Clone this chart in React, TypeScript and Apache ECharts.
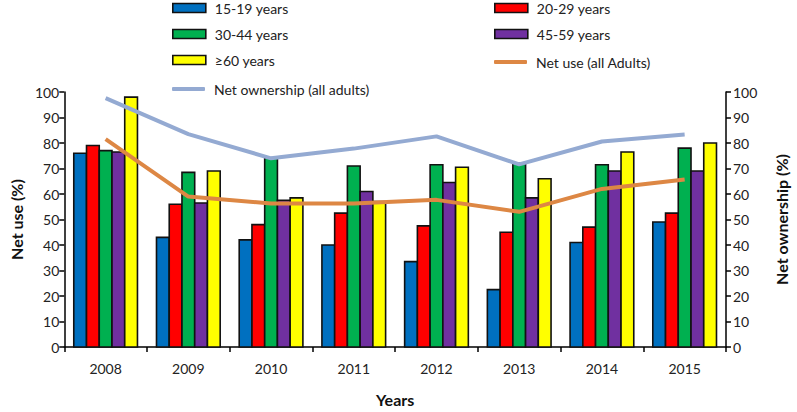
import React, { useEffect, useRef } from "react";
import * as echarts from "echarts";

const years = ["2008", "2009", "2010", "2011", "2012", "2013", "2014", "2015"];
const age15to19 = [76, 43, 42, 40, 33.5, 22.5, 41, 49];
const age20to29 = [79, 56, 48, 52.5, 47.5, 45, 47, 52.5];
const age30to44 = [77, 68.5, 74, 71, 71.5, 72, 71.5, 78];
const age45to59 = [76.5, 56.5, 57.5, 61, 64.5, 58.5, 69, 69];
const age60plus = [98, 69, 58.5, 57, 70.5, 66, 76.5, 80];
const netUseAll = [81.5, 59, 56.3, 56.3, 57.7, 53, 62, 65.7];
const netOwnershipAll = [97.6, 83.5, 74, 77.8, 82.6, 71.6, 80.6, 83.3];
const yTicks = [0, 10, 20, 30, 40, 50, 60, 70, 80, 90, 100];

const FONT = "Lato, 'Open Sans', sans-serif";

export default function App() {
  const ref = useRef<HTMLDivElement>(null);
  useEffect(() => {
    if (!ref.current) return;
    const chart = echarts.init(ref.current, undefined, { renderer: "svg" });
    const groups = [
      { name: "15-19 years", data: age15to19, color: "#0070C0" },
      { name: "20-29 years", data: age20to29, color: "#FF0000" },
      { name: "30-44 years", data: age30to44, color: "#00B050" },
      { name: "45-59 years", data: age45to59, color: "#7030A0" },
      { name: "≥60 years", data: age60plus, color: "#FFFF00" },
    ];
    const n = groups.length;
    const barSeries = groups.map((s, k) => ({
      type: "custom",
      name: s.name,
      data: s.data.map((v, i) => [i, v]),
      encode: { x: 0, y: 1 },
      itemStyle: { color: s.color, borderColor: "#000", borderWidth: 1.6 },
      z: 2,
      renderItem: (params: any, api: any) => {
        const idx = api.value(0);
        const val = api.value(1);
        const top = api.coord([idx, val]);
        const base = api.coord([idx, 0]);
        const band = api.size([1, 0])[0];
        const w = band * 0.154;
        const x = top[0] - (n / 2) * w + k * w;
        return {
          type: "rect",
          shape: { x, y: top[1], width: w, height: base[1] - top[1] },
          style: { fill: s.color, stroke: "#111", lineWidth: 1.6 },
        };
      },
    }));
    const legendPos = [
      { name: "15-19 years", left: 172, top: 1, line: false, color: "#0070C0" },
      { name: "20-29 years", left: 494, top: 1, line: false, color: "#FF0000" },
      { name: "30-44 years", left: 172, top: 27, line: false, color: "#00B050" },
      { name: "45-59 years", left: 494, top: 27, line: false, color: "#7030A0" },
      { name: "≥60 years", left: 172, top: 53, line: false, color: "#FFFF00" },
      { name: "Net use (all Adults)", left: 494, top: 53, line: true, color: "#DD8744" },
      { name: "Net ownership (all adults)", left: 172, top: 80, line: true, color: "#94AAD2" },
    ];
    const axisLabelStyle = { color: "#222", fontSize: 14, fontFamily: FONT };
    const axisNameStyle = { color: "#111", fontSize: 16, fontWeight: "bold" as const, fontFamily: FONT };
    chart.setOption({
      animation: false,
      textStyle: { fontFamily: FONT },
      grid: { left: 58, right: 64, top: 92, bottom: 59, containLabel: false },
      legend: legendPos.map((l) => ({
        data: [
          l.line
            ? { name: l.name, icon: "roundRect", itemStyle: { color: l.color, borderWidth: 0 } }
            : { name: l.name, icon: "rect", itemStyle: { color: l.color, borderColor: "#111", borderWidth: 1.6 } },
        ],
        left: l.left,
        top: l.line ? l.top + 2 : l.top,
        itemWidth: 33,
        itemHeight: l.line ? 4 : 9,
        padding: 0,
        textStyle: { color: "#222", fontSize: 14, fontFamily: FONT, padding: [0, 0, 0, 4] },
        selectedMode: false,
      })),
      xAxis: {
        type: "category",
        data: years,
        boundaryGap: true,
        name: "Years",
        nameLocation: "middle",
        nameGap: 44,
        nameTextStyle: axisNameStyle,
        axisLine: { lineStyle: { color: "#000", width: 1.5 } },
        axisTick: { show: true, length: 5, alignWithLabel: false, lineStyle: { color: "#000", width: 1.5 } },
        axisLabel: { ...axisLabelStyle, margin: 14 },
        splitLine: { show: false },
      },
      yAxis: [
        {
          type: "value",
          min: yTicks[0],
          max: yTicks[yTicks.length - 1],
          interval: 10,
          name: "Net use (%)",
          nameLocation: "middle",
          nameGap: 40,
          nameTextStyle: axisNameStyle,
          axisLine: { show: true, lineStyle: { color: "#000", width: 1.5 } },
          axisTick: { show: true, length: 5, lineStyle: { color: "#000", width: 1.5 } },
          axisLabel: { ...axisLabelStyle, margin: 5 },
          splitLine: { show: false },
        },
        {
          type: "value",
          min: yTicks[0],
          max: yTicks[yTicks.length - 1],
          interval: 10,
          position: "right",
          name: "Net ownership (%)",
          nameLocation: "middle",
          nameGap: 47,
          nameTextStyle: axisNameStyle,
          axisLine: { show: true, lineStyle: { color: "#000", width: 1.5 } },
          axisTick: { show: true, length: 5, lineStyle: { color: "#000", width: 1.5 } },
          axisLabel: { ...axisLabelStyle, margin: 7 },
          splitLine: { show: false },
        },
      ],
      series: [
        ...barSeries,
        {
          type: "line",
          name: "Net use (all Adults)",
          data: netUseAll,
          yAxisIndex: 0,
          symbol: "none",
          lineStyle: { color: "#DD8744", width: 4 },
          itemStyle: { color: "#DD8744" },
          z: 5,
        },
        {
          type: "line",
          name: "Net ownership (all adults)",
          data: netOwnershipAll,
          yAxisIndex: 1,
          symbol: "none",
          lineStyle: { color: "#94AAD2", width: 4 },
          itemStyle: { color: "#94AAD2" },
          z: 5,
        },
      ],
    });
    return () => chart.dispose();
  }, []);
  return <div ref={ref} style={{ width: 797, height: 412, position: "absolute", left: 0, top: 0 }} />;
}
